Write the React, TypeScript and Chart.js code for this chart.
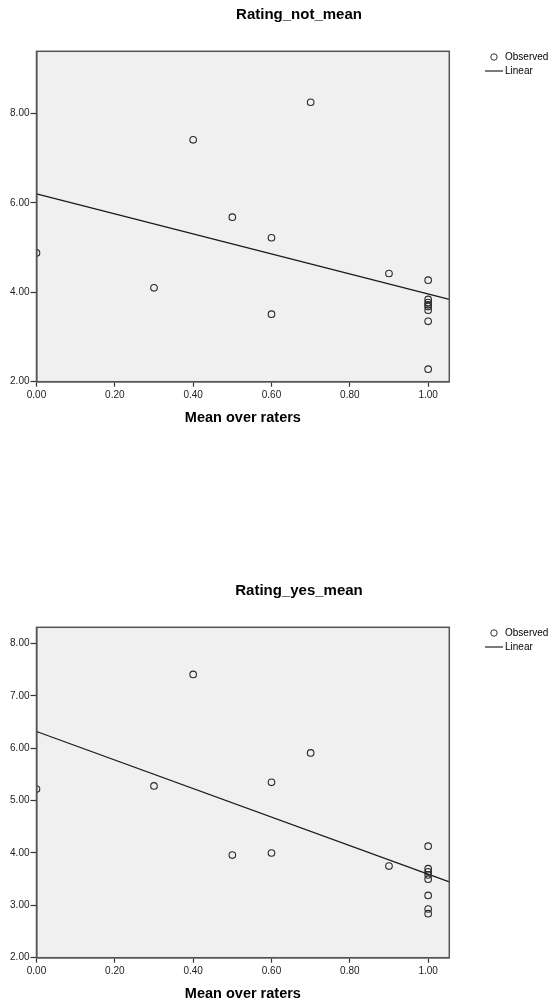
import React, { useEffect, useRef } from 'react';
import { Chart, registerables } from 'chart.js';

Chart.register(...registerables);

const FONT = "'Liberation Sans', Arial, Helvetica, sans-serif";

// ---- data ----
const MEAN_OVER_RATERS = [0, 0.3, 0.4, 0.5, 0.6, 0.6, 0.7, 0.9, 1, 1, 1, 1, 1, 1, 1, 1];
const RATING_NOT_MEAN = [4.88, 4.10, 7.41, 5.68, 5.22, 3.51, 8.25, 4.42, 4.27, 3.84, 3.77, 3.72, 3.68, 3.60, 3.35, 2.28];
const RATING_YES_MEAN = [5.22, 5.28, 7.41, 3.96, 4.00, 5.35, 5.91, 3.75, 4.13, 3.70, 3.64, 3.58, 3.50, 3.19, 2.93, 2.84];

const FIT_X = [0, 1.054];
const FIT_NOT = [6.20, 3.84];
const FIT_YES = [6.32, 3.45];

const X_TICKS = [0, 0.2, 0.4, 0.6, 0.8, 1.0];
const Y_TICKS_NOT = [2, 4, 6, 8];
const Y_TICKS_YES = [2, 3, 4, 5, 6, 7, 8];

const X_RANGE = [0, 1.054];
const Y_RANGE_NOT = [2, 9.39];
const Y_RANGE_YES = [2, 8.31];

const X_TITLE = 'Mean over raters';
const LEGEND_LABELS = ['Observed', 'Linear'];

const W = 554;
const H = 428;

type PanelProps = {
  title: string;
  ys: number[];
  fit: number[];
  yRange: number[];
  yTicks: number[];
};

function Panel({ title, ys, fit, yRange, yTicks }: PanelProps) {
  const ref = useRef<HTMLCanvasElement | null>(null);

  useEffect(() => {
    if (!ref.current) return;
    const decor = {
      id: 'decor',
      beforeDraw(chart: any) {
        const { ctx, chartArea: a } = chart;
        ctx.save();
        ctx.fillStyle = '#F0F0F0';
        ctx.fillRect(a.left, a.top, a.right - a.left, a.bottom - a.top);
        ctx.restore();
      },
      afterDraw(chart: any) {
        const { ctx, chartArea: a } = chart;
        ctx.save();
        ctx.strokeStyle = '#555';
        ctx.lineWidth = 1.5;
        ctx.strokeRect(a.left, a.top, a.right - a.left, a.bottom - a.top);
        // title
        ctx.fillStyle = '#000';
        ctx.font = `bold 15px ${FONT}`;
        ctx.textAlign = 'center';
        ctx.textBaseline = 'middle';
        ctx.fillText(title, 299, 14.5);
        // legend
        ctx.font = `10px ${FONT}`;
        ctx.textAlign = 'left';
        ctx.strokeStyle = '#333';
        ctx.lineWidth = 1;
        ctx.beginPath();
        ctx.arc(494, 57, 3.2, 0, Math.PI * 2);
        ctx.stroke();
        ctx.fillText(LEGEND_LABELS[0], 505, 57.5);
        ctx.strokeStyle = '#222';
        ctx.lineWidth = 1.2;
        ctx.beginPath();
        ctx.moveTo(485, 71);
        ctx.lineTo(503, 71);
        ctx.stroke();
        ctx.fillText(LEGEND_LABELS[1], 505, 71.5);
        ctx.restore();
      },
    };

    const chart = new Chart(ref.current, {
      type: 'scatter',
      data: {
        datasets: [
          {
            label: LEGEND_LABELS[0],
            data: MEAN_OVER_RATERS.map((x, i) => ({ x, y: ys[i] })),
            pointRadius: 3.3,
            pointBorderWidth: 1.1,
            pointBorderColor: '#2a2a2a',
            pointBackgroundColor: 'rgba(0,0,0,0)',
            showLine: false,
          },
          {
            label: LEGEND_LABELS[1],
            data: FIT_X.map((x, i) => ({ x, y: fit[i] })),
            showLine: true,
            borderColor: '#1a1a1a',
            borderWidth: 1.3,
            pointRadius: 0,
          },
        ],
      },
      options: {
        responsive: false,
        animation: false,
        devicePixelRatio: 1,
        layout: { autoPadding: false, padding: { top: 51.3, right: 104.7, bottom: 0, left: 0 } },
        plugins: { legend: { display: false }, tooltip: { enabled: false }, title: { display: false } },
        scales: {
          x: {
            type: 'linear',
            min: X_RANGE[0],
            max: X_RANGE[1],
            afterBuildTicks: (s: any) => {
              s.ticks = X_TICKS.map((v) => ({ value: v }));
            },
            afterFit: (s: any) => {
              s.height = H - 381.7;
            },
            ticks: {
              callback: (v: any) => Number(v).toFixed(2),
              font: { size: 10, family: FONT },
              color: '#222',
              padding: 3,
              maxRotation: 0,
              autoSkip: false,
            },
            grid: { drawOnChartArea: false, drawTicks: true, tickLength: 5, color: '#333', tickWidth: 1.2 },
            border: { display: true, color: '#555', width: 1.5 },
            title: {
              display: true,
              text: X_TITLE,
              font: { size: 14.5, weight: 'bold', family: FONT },
              color: '#000',
              padding: { top: 0, bottom: 1 },
            },
          },
          y: {
            type: 'linear',
            min: yRange[0],
            max: yRange[1],
            afterBuildTicks: (s: any) => {
              s.ticks = yTicks.map((v) => ({ value: v }));
            },
            afterFit: (s: any) => {
              s.width = 36.5;
            },
            ticks: {
              callback: (v: any) => Number(v).toFixed(2),
              font: { size: 10, family: FONT },
              color: '#222',
              padding: 1,
              autoSkip: false,
            },
            grid: { drawOnChartArea: false, drawTicks: true, tickLength: 6, color: '#333', tickWidth: 1.2 },
            border: { display: true, color: '#555', width: 1.5 },
          },
        },
      },
      plugins: [decor],
    } as any);
    return () => chart.destroy();
  }, [title, ys, fit, yRange, yTicks]);

  return <canvas ref={ref} width={W} height={H} style={{ width: W, height: H, display: 'block' }} />;
}

export default function App() {
  return (
    <div style={{ position: 'absolute', left: 0, top: 0, width: W, height: 1004, background: '#fff' }}>
      <div style={{ position: 'absolute', left: 0, top: 0 }}>
        <Panel title="Rating_not_mean" ys={RATING_NOT_MEAN} fit={FIT_NOT} yRange={Y_RANGE_NOT} yTicks={Y_TICKS_NOT} />
      </div>
      <div style={{ position: 'absolute', left: 0, top: 576 }}>
        <Panel title="Rating_yes_mean" ys={RATING_YES_MEAN} fit={FIT_YES} yRange={Y_RANGE_YES} yTicks={Y_TICKS_YES} />
      </div>
    </div>
  );
}
